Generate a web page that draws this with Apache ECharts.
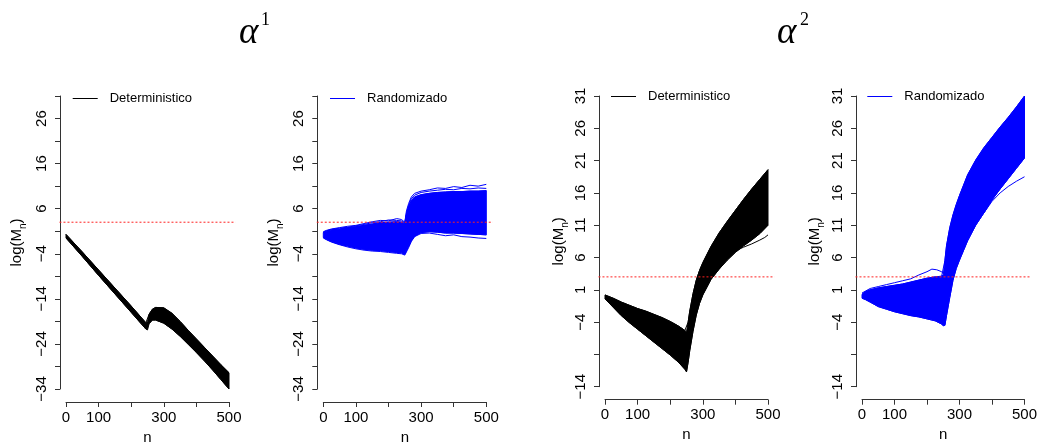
<!DOCTYPE html>
<html><head><meta charset="utf-8">
<script src="https://cdn.jsdelivr.net/npm/echarts@6/dist/echarts.min.js"></script>
<style>html,body{margin:0;padding:0;background:#fff}#c{width:1045px;height:443px}</style>
</head><body><div id="c"></div>
<script>
// ---- tick values / labels ----
const xTicks = [0, 100, 200, 300, 400, 500];
const xTickLabels = [0, 100, 300, 500];
const yTicksA = [-34, -29, -24, -19, -14, -9, -4, 1, 6, 11, 16, 21, 26, 31];
const yLabelsA = [-34, -24, -14, -4, 6, 16, 26];
const yTicksB = [-14, -9, -4, 1, 6, 11, 16, 21, 26, 31];
const yLabelsB = [-14, -4, 1, 6, 11, 16, 21, 26, 31];
const threshold = 3.0;           // red dotted reference line, log(20)
const seriesNames = ['Deterministico', 'Randomizado'];
const titles = ['1', '2'];       // superscripts of alpha

// ---- panel 1: alpha^1, Deterministico (envelope of trajectories) ----
const p1N     = [0, 50, 100, 150, 200, 245, 250, 255, 265, 275, 300, 325, 350, 375, 400, 425, 450, 475, 500];
const p1Upper = [0.3, -3.6, -7.6, -11.6, -15.6, -19.3, -19.0, -17.4, -16.3, -15.9, -16.0, -17.2, -19.0, -21.0, -22.9, -24.8, -26.7, -28.6, -30.4];
const p1Lower = [-0.5, -4.6, -8.8, -12.9, -17.0, -20.7, -20.9, -19.5, -18.7, -18.7, -19.4, -20.7, -22.3, -24.1, -25.9, -27.8, -29.8, -31.9, -34.0];

// ---- panel 2: alpha^1, Randomizado ----
const p2N        = [0, 10, 25, 50, 75, 100, 125, 150, 175, 200, 225, 240, 250, 255, 262, 270, 280, 300, 325, 350, 375, 400, 425, 450, 475, 500];
const p2Upper    = [0.7, 1.0, 1.3, 1.5, 1.8, 2.0, 2.3, 2.6, 2.9, 3.0, 3.1, 3.0, 2.7, 4.6, 6.4, 7.8, 8.6, 9.1, 9.4, 9.6, 9.7, 9.8, 9.8, 9.9, 9.9, 10.0];
const p2Lower    = [-0.4, -0.8, -1.3, -1.9, -2.3, -2.7, -3.0, -3.2, -3.3, -3.5, -3.7, -3.8, -4.1, -3.3, -2.3, -1.1, -0.1, 0.7, 0.9, 0.8, 0.6, 0.6, 0.5, 0.4, 0.3, 0.2];
const p2OutHigh  = [0.9, 1.2, 1.5, 1.8, 2.1, 2.3, 2.7, 3.1, 3.4, 3.3, 3.8, 3.6, 3.0, 5.5, 7.2, 8.6, 9.4, 9.9, 10.2, 10.6, 10.5, 10.9, 10.7, 11.2, 11.0, 11.4];
const p2OutHigh2 = [0.8, 1.1, 1.4, 1.7, 1.9, 2.2, 2.5, 2.9, 3.1, 3.5, 3.4, 3.3, 2.9, 5.0, 6.8, 8.2, 9.0, 9.6, 9.9, 10.1, 10.3, 10.2, 10.5, 10.4, 10.6, 10.5];
const p2OutLow   = [-0.5, -0.9, -1.4, -2.0, -2.5, -2.9, -3.2, -3.4, -3.5, -3.7, -3.9, -4.0, -4.3, -3.6, -2.6, -1.3, -0.2, 0.5, 0.6, 0.3, 0.0, 0.2, -0.2, -0.3, -0.5, -0.6];

// ---- panel 3: alpha^2, Deterministico ----
const p3N     = [0, 25, 50, 75, 100, 125, 150, 175, 200, 225, 245, 250, 255, 260, 270, 280, 290, 300, 325, 350, 375, 400, 425, 450, 475, 500];
const p3Upper = [0.2, -0.3, -0.9, -1.4, -1.9, -2.3, -2.8, -3.3, -3.9, -4.6, -5.3, -5.5, -4.0, -2.3, 0.4, 2.5, 4.0, 5.2, 7.7, 9.8, 11.6, 13.3, 15.0, 16.6, 18.1, 19.6];
const p3Lower = [-0.4, -1.7, -3.0, -4.1, -5.1, -6.1, -7.1, -8.1, -9.1, -10.2, -11.3, -11.7, -10.2, -8.4, -5.4, -2.9, -1.1, 0.2, 2.6, 4.2, 5.6, 6.8, 7.8, 8.7, 9.7, 11.0];
const p3OutN  = [400, 425, 450, 475, 490, 500];
const p3Out   = [7.0, 7.6, 8.1, 8.7, 9.1, 9.5];

// ---- panel 4: alpha^2, Randomizado ----
const p4N        = [0, 10, 25, 50, 75, 100, 125, 150, 175, 200, 225, 245, 250, 255, 260, 270, 280, 290, 300, 325, 350, 375, 400, 425, 450, 475, 500];
const p4Upper    = [0.3, 0.7, 1.0, 1.3, 1.5, 1.7, 1.9, 2.2, 2.5, 2.8, 3.0, 3.1, 3.3, 5.5, 7.8, 10.6, 12.6, 14.2, 15.6, 18.8, 21.1, 23.0, 24.6, 26.2, 27.7, 29.3, 31.0];
const p4Lower    = [-0.3, -0.5, -0.9, -1.6, -2.0, -2.4, -2.7, -3.0, -3.2, -3.5, -3.8, -4.3, -4.6, -4.5, -3.0, -0.2, 2.5, 4.3, 5.6, 8.6, 11.0, 12.9, 14.9, 16.6, 18.2, 19.8, 21.4];
const p4OutHighN = [0, 25, 50, 75, 100, 125, 150, 175, 200, 215, 230, 245, 250];
const p4OutHigh  = [0.5, 1.2, 1.5, 1.8, 2.1, 2.4, 2.7, 3.3, 3.8, 4.2, 4.1, 3.8, 3.5];
const p4OutLowN  = [375, 400, 425, 450, 475, 500];
const p4OutLow   = [12.9, 14.7, 16.0, 17.0, 17.8, 18.5];

// ---- layout (pixels) ----
const FONT = 'Liberation Sans';
const panels = [
  { name: seriesNames[0], color: '#000000', n: p1N, upper: p1Upper, lower: p1Lower,
    extras: [],
    yTicks: yTicksA, yLabels: yLabelsA,
    box: { left: 66, top: 96, width: 163, height: 293 }, legend: { left: 72.7, top: 92 }, yNameGap: 32 },
  { name: seriesNames[1], color: '#0000ff', n: p2N, upper: p2Upper, lower: p2Lower,
    extras: [[p2N, p2OutHigh], [p2N, p2OutHigh2], [p2N, p2OutLow]],
    yTicks: yTicksA, yLabels: yLabelsA,
    box: { left: 323.3, top: 96, width: 163, height: 293 }, legend: { left: 330, top: 92 }, yNameGap: 32 },
  { name: seriesNames[0], color: '#000000', n: p3N, upper: p3Upper, lower: p3Lower,
    extras: [[p3OutN, p3Out]],
    yTicks: yTicksB, yLabels: yLabelsB,
    box: { left: 605, top: 96, width: 163, height: 290.7 }, legend: { left: 611, top: 90 }, yNameGap: 29 },
  { name: seriesNames[1], color: '#0000ff', n: p4N, upper: p4Upper, lower: p4Lower,
    extras: [[p4OutHighN, p4OutHigh], [p4OutLowN, p4OutLow]],
    yTicks: yTicksB, yLabels: yLabelsB,
    box: { left: 862, top: 96, width: 162.5, height: 290.7 }, legend: { left: 867.3, top: 90 }, yNameGap: 30 }
];

const grid = [], xAxis = [], yAxis = [], series = [], legend = [];
const axisColor = '#333';
const minusFmt = v => String(v).replace('-', '\u2212');
const X_PLOT_MIN = -20, X_PLOT_MAX = 520;   // R-style 4% expansion of 0..500

panels.forEach((p, i) => {
  const b = p.box;
  const yMin = p.yTicks[0], yMax = p.yTicks[p.yTicks.length - 1];
  const padX = 0.04 * b.width, padY = 0.04 * b.height;
  const ga = 2 * i, gb = 2 * i + 1;
  grid.push({ left: b.left, top: b.top, width: b.width, height: b.height, outerBoundsMode: 'none', containLabel: false });
  grid.push({ left: b.left - padX, top: b.top - padY, width: b.width + 2 * padX, height: b.height + 2 * padY, outerBoundsMode: 'none', containLabel: false });

  xAxis.push({
    gridIndex: ga, type: 'value', min: xTicks[0], max: xTicks[xTicks.length - 1], position: 'bottom', offset: 13,
    axisLine: { show: true, onZero: false, lineStyle: { color: axisColor, width: 1 } },
    axisTick: { show: true, length: 5, customValues: xTicks, lineStyle: { color: axisColor } },
    axisLabel: { customValues: xTickLabels, fontSize: 15, color: '#000', margin: 8, fontFamily: FONT, hideOverlap: false },
    splitLine: { show: false },
    name: 'n', nameLocation: 'middle', nameGap: 28, nameMoveOverlap: false,
    nameTextStyle: { fontSize: 15, color: '#000', fontFamily: FONT }
  });
  xAxis.push({ gridIndex: gb, type: 'value', min: X_PLOT_MIN, max: X_PLOT_MAX, show: false });

  yAxis.push({
    gridIndex: ga, type: 'value', min: yMin, max: yMax, position: 'left', offset: 6,
    axisLine: { show: true, onZero: false, lineStyle: { color: axisColor, width: 1 } },
    axisTick: { show: true, length: 5, customValues: p.yTicks, lineStyle: { color: axisColor } },
    axisLabel: { customValues: p.yLabels, rotate: 90, fontSize: 15, color: '#000', margin: 11, fontFamily: FONT,
                 formatter: minusFmt, hideOverlap: false },
    splitLine: { show: false },
    name: 'log(M{s|n})', nameLocation: 'middle', nameRotate: 90, nameGap: p.yNameGap, nameMoveOverlap: false,
    nameTextStyle: { fontSize: 15, color: '#000', fontFamily: FONT, lineHeight: 22,
      rich: { s: { fontSize: 10, fontFamily: FONT, color: '#000', lineHeight: 12, verticalAlign: 'bottom' } } }
  });
  yAxis.push({ gridIndex: gb, type: 'value', min: yMin - 0.04 * (yMax - yMin), max: yMax + 0.04 * (yMax - yMin), show: false });

  // filled band between lower and upper envelopes
  series.push({
    type: 'custom', xAxisIndex: gb, yAxisIndex: gb, silent: true, z: 2,
    data: p.n.map((n, k) => [n, p.lower[k], p.upper[k]]),
    renderItem: (params, api) => {
      if (params.dataIndex !== 0) return null;
      const pts = [];
      for (let k = 0; k < p.n.length; k++) pts.push(api.coord([p.n[k], p.upper[k]]));
      for (let k = p.n.length - 1; k >= 0; k--) pts.push(api.coord([p.n[k], p.lower[k]]));
      return { type: 'polygon', shape: { points: pts }, style: { fill: p.color, stroke: p.color, lineWidth: 1 } };
    }
  });
  const lineSeries = (name, xs, ys, w) => ({
    type: 'line', name: name, xAxisIndex: gb, yAxisIndex: gb, silent: true, z: 3,
    data: xs.map((n, k) => [n, ys[k]]), symbol: 'none', showSymbol: false,
    color: p.color, lineStyle: { color: p.color, width: w }, itemStyle: { color: p.color }
  });
  series.push(lineSeries(p.name, p.n, p.upper, 1));
  series.push(lineSeries(p.name, p.n, p.lower, 1));
  p.extras.forEach(e => series.push(lineSeries(p.name, e[0], e[1], 1)));

  // threshold line across the whole plot region
  series.push({
    type: 'line', xAxisIndex: gb, yAxisIndex: gb, silent: true, z: 10,
    data: [[X_PLOT_MIN, threshold], [X_PLOT_MAX, threshold]], symbol: 'none', showSymbol: false,
    color: '#ff2020', lineStyle: { color: '#ff2020', type: [2, 2], width: 1 }, itemStyle: { color: '#ff2020' }
  });

  legend.push({
    left: p.legend.left, top: p.legend.top, padding: 0, orient: 'horizontal', selectedMode: false,
    data: [{ name: p.name, icon: 'path://M0,0 L25,0 L25,1 L0,1 Z',
             itemStyle: { color: p.color, borderColor: p.color, borderWidth: 0, opacity: 1 },
             lineStyle: { color: p.color, width: 1, opacity: 1 } }],
    itemWidth: 25, itemHeight: 1,
    textStyle: { fontSize: 13, color: '#000', fontFamily: FONT, padding: [0, 0, 0, 7] }
  });
});

const graphic = [
  { type: 'text', left: 239, top: 15, style: { text: 'α', font: 'italic 37px "Liberation Serif"', fill: '#000' } },
  { type: 'text', left: 261, top: 11, style: { text: titles[0], font: '18px "Liberation Serif"', fill: '#000' } },
  { type: 'text', left: 777, top: 15, style: { text: 'α', font: 'italic 37px "Liberation Serif"', fill: '#000' } },
  { type: 'text', left: 800, top: 11, style: { text: titles[1], font: '18px "Liberation Serif"', fill: '#000' } }
];

const chart = echarts.init(document.getElementById('c'));
chart.setOption({ animation: false, backgroundColor: '#fff', grid, xAxis, yAxis, series, legend, graphic });
</script></body></html>
